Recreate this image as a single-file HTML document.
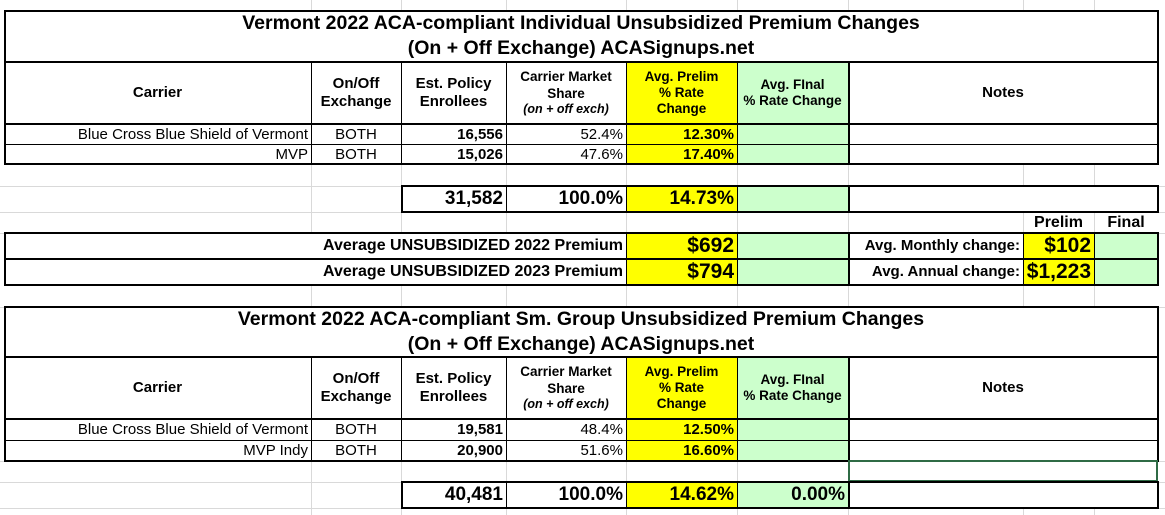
<!DOCTYPE html>
<html><head><meta charset="utf-8"><style>
body{margin:0;width:1165px;height:515px;background:#fff;position:relative;overflow:hidden;font-family:"Liberation Sans",Arial,sans-serif;}
.g{position:absolute;background:#d9d9d9}
.c{position:absolute;box-sizing:border-box;display:flex;align-items:center;justify-content:center;text-align:center;font-weight:bold;font-size:15px;color:#000;line-height:1.2;padding:0 3px;white-space:nowrap}
.r{justify-content:flex-end;text-align:right}
.n{font-weight:normal}
.y{background:#ffff00}
.gr{background:#ccffcc}
.w{background:#fff}
.b{position:absolute;background:#000}
.h{font-size:15px}
.s{font-size:13.5px}
.t{font-size:19.5px;line-height:25px}
.big{font-size:19px}
.v{font-size:21px}
.lab{font-size:16px}
</style></head><body>
<!-- gridlines -->
<div class="g" style="left:311px;top:0;width:1px;height:515px"></div>
<div class="g" style="left:401px;top:0;width:1px;height:515px"></div>
<div class="g" style="left:506px;top:0;width:1px;height:515px"></div>
<div class="g" style="left:626px;top:0;width:1px;height:515px"></div>
<div class="g" style="left:737px;top:0;width:1px;height:515px"></div>
<div class="g" style="left:848px;top:0;width:1px;height:515px"></div>
<div class="g" style="left:1023px;top:0;width:1px;height:515px"></div>
<div class="g" style="left:1094px;top:0;width:1px;height:515px"></div>
<div class="g" style="left:0;top:186px;width:1165px;height:1px"></div>
<div class="g" style="left:0;top:212px;width:1165px;height:1px"></div>
<div class="g" style="left:0;top:233px;width:1165px;height:1px"></div>
<div class="g" style="left:0;top:307px;width:1165px;height:1px"></div>
<div class="g" style="left:0;top:461px;width:1165px;height:1px"></div>
<div class="g" style="left:0;top:482px;width:1165px;height:1px"></div>
<div class="g" style="left:0;top:508px;width:1165px;height:1px"></div>

<!-- TOP TABLE -->
<div class="c w t" style="left:4px;top:10px;width:1154px;height:52px">Vermont 2022 ACA-compliant Individual Unsubsidized Premium Changes<br>(On + Off Exchange) ACASignups.net</div>
<div class="c w h" style="left:4px;top:62px;width:307px;height:62px">Carrier</div>
<div class="c w h" style="left:311px;top:62px;width:90px;height:62px">On/Off<br>Exchange</div>
<div class="c w h" style="left:401px;top:62px;width:105px;height:62px">Est. Policy<br>Enrollees</div>
<div class="c w s" style="left:506px;top:62px;width:120px;height:62px;flex-direction:column">Carrier Market<br>Share<br><i style="font-size:12.5px">(on + off exch)</i></div>
<div class="c y s" style="left:626px;top:62px;width:111px;height:62px">Avg. Prelim<br>% Rate<br>Change</div>
<div class="c gr s" style="left:737px;top:62px;width:111px;height:62px">Avg. FInal<br>% Rate Change</div>
<div class="c w h" style="left:848px;top:62px;width:310px;height:62px">Notes</div>

<div class="c r n" style="left:4px;top:124px;width:307px;height:21px">Blue Cross Blue Shield of Vermont</div>
<div class="c n" style="left:311px;top:124px;width:90px;height:21px">BOTH</div>
<div class="c r" style="left:401px;top:124px;width:105px;height:21px">16,556</div>
<div class="c r n" style="left:506px;top:124px;width:120px;height:21px">52.4%</div>
<div class="c r y" style="left:626px;top:124px;width:111px;height:21px">12.30%</div>
<div class="c gr" style="left:737px;top:124px;width:111px;height:21px"></div>
<div class="c w" style="left:848px;top:124px;width:310px;height:40px"></div>
<div class="c r n" style="left:4px;top:145px;width:307px;height:19px">MVP</div>
<div class="c n" style="left:311px;top:145px;width:90px;height:19px">BOTH</div>
<div class="c r" style="left:401px;top:145px;width:105px;height:19px">15,026</div>
<div class="c r n" style="left:506px;top:145px;width:120px;height:19px">47.6%</div>
<div class="c r y" style="left:626px;top:145px;width:111px;height:19px">17.40%</div>
<div class="c gr" style="left:737px;top:145px;width:111px;height:19px"></div>

<div class="c r w big" style="left:401px;top:186px;width:105px;height:26px">31,582</div>
<div class="c r w big" style="left:506px;top:186px;width:120px;height:26px">100.0%</div>
<div class="c r y big" style="left:626px;top:186px;width:111px;height:26px">14.73%</div>
<div class="c gr" style="left:737px;top:186px;width:111px;height:26px"></div>
<div class="c w" style="left:848px;top:186px;width:310px;height:26px"></div>

<div class="c lab" style="left:1023px;top:212px;width:71px;height:21px">Prelim</div>
<div class="c lab" style="left:1094px;top:212px;width:64px;height:21px">Final</div>

<div class="c r w lab" style="left:4px;top:233px;width:622px;height:26px">Average UNSUBSIDIZED 2022 Premium</div>
<div class="c r y v" style="left:626px;top:233px;width:111px;height:26px">$692</div>
<div class="c gr" style="left:737px;top:233px;width:111px;height:26px"></div>
<div class="c r w h" style="left:848px;top:233px;width:175px;height:26px">Avg. Monthly change:</div>
<div class="c r y v" style="left:1023px;top:233px;width:71px;height:26px">$102</div>
<div class="c gr" style="left:1094px;top:233px;width:64px;height:26px"></div>
<div class="c r w lab" style="left:4px;top:259px;width:622px;height:26px">Average UNSUBSIDIZED 2023 Premium</div>
<div class="c r y v" style="left:626px;top:259px;width:111px;height:26px">$794</div>
<div class="c gr" style="left:737px;top:259px;width:111px;height:26px"></div>
<div class="c r w h" style="left:848px;top:259px;width:175px;height:26px">Avg. Annual change:</div>
<div class="c r y v" style="left:1023px;top:259px;width:71px;height:26px">$1,223</div>
<div class="c gr" style="left:1094px;top:259px;width:64px;height:26px"></div>

<!-- top table lines -->
<div class="b" style="left:4px;top:10px;width:1155px;height:2px"></div>
<div class="b" style="left:4px;top:61px;width:1155px;height:2px"></div>
<div class="b" style="left:4px;top:123px;width:1155px;height:2px"></div>
<div class="b" style="left:4px;top:144px;width:1155px;height:1px"></div>
<div class="b" style="left:4px;top:163px;width:1155px;height:2px"></div>
<div class="b" style="left:4px;top:10px;width:2px;height:155px"></div>
<div class="b" style="left:1157px;top:10px;width:2px;height:155px"></div>
<div class="b" style="left:311px;top:62px;width:1px;height:102px"></div>
<div class="b" style="left:401px;top:62px;width:1px;height:102px"></div>
<div class="b" style="left:506px;top:62px;width:1px;height:102px"></div>
<div class="b" style="left:626px;top:62px;width:1px;height:102px"></div>
<div class="b" style="left:737px;top:62px;width:1px;height:102px"></div>
<div class="b" style="left:848px;top:62px;width:2px;height:102px"></div>

<div class="b" style="left:401px;top:185px;width:758px;height:2px"></div>
<div class="b" style="left:401px;top:211px;width:758px;height:2px"></div>
<div class="b" style="left:401px;top:185px;width:2px;height:28px"></div>
<div class="b" style="left:1157px;top:185px;width:2px;height:28px"></div>
<div class="b" style="left:506px;top:186px;width:1px;height:26px"></div>
<div class="b" style="left:626px;top:186px;width:1px;height:26px"></div>
<div class="b" style="left:737px;top:186px;width:1px;height:26px"></div>
<div class="b" style="left:848px;top:186px;width:2px;height:26px"></div>

<div class="b" style="left:4px;top:232px;width:1155px;height:2px"></div>
<div class="b" style="left:4px;top:258px;width:1155px;height:2px"></div>
<div class="b" style="left:4px;top:284px;width:1155px;height:2px"></div>
<div class="b" style="left:4px;top:232px;width:2px;height:54px"></div>
<div class="b" style="left:1157px;top:232px;width:2px;height:54px"></div>
<div class="b" style="left:626px;top:233px;width:1px;height:52px"></div>
<div class="b" style="left:737px;top:233px;width:1px;height:52px"></div>
<div class="b" style="left:848px;top:233px;width:2px;height:52px"></div>
<div class="b" style="left:1023px;top:233px;width:1px;height:52px"></div>
<div class="b" style="left:1094px;top:233px;width:1px;height:52px"></div>

<!-- BOTTOM TABLE -->
<div class="c w t" style="left:4px;top:307px;width:1154px;height:50px">Vermont 2022 ACA-compliant Sm. Group Unsubsidized Premium Changes<br>(On + Off Exchange) ACASignups.net</div>
<div class="c w h" style="left:4px;top:357px;width:307px;height:62px">Carrier</div>
<div class="c w h" style="left:311px;top:357px;width:90px;height:62px">On/Off<br>Exchange</div>
<div class="c w h" style="left:401px;top:357px;width:105px;height:62px">Est. Policy<br>Enrollees</div>
<div class="c w s" style="left:506px;top:357px;width:120px;height:62px;flex-direction:column">Carrier Market<br>Share<br><i style="font-size:12.5px">(on + off exch)</i></div>
<div class="c y s" style="left:626px;top:357px;width:111px;height:62px">Avg. Prelim<br>% Rate<br>Change</div>
<div class="c gr s" style="left:737px;top:357px;width:111px;height:62px">Avg. FInal<br>% Rate Change</div>
<div class="c w h" style="left:848px;top:357px;width:310px;height:62px">Notes</div>

<div class="c r n" style="left:4px;top:419px;width:307px;height:21px">Blue Cross Blue Shield of Vermont</div>
<div class="c n" style="left:311px;top:419px;width:90px;height:21px">BOTH</div>
<div class="c r" style="left:401px;top:419px;width:105px;height:21px">19,581</div>
<div class="c r n" style="left:506px;top:419px;width:120px;height:21px">48.4%</div>
<div class="c r y" style="left:626px;top:419px;width:111px;height:21px">12.50%</div>
<div class="c gr" style="left:737px;top:419px;width:111px;height:21px"></div>
<div class="c w" style="left:848px;top:419px;width:310px;height:42px"></div>
<div class="c r n" style="left:4px;top:440px;width:307px;height:21px">MVP Indy</div>
<div class="c n" style="left:311px;top:440px;width:90px;height:21px">BOTH</div>
<div class="c r" style="left:401px;top:440px;width:105px;height:21px">20,900</div>
<div class="c r n" style="left:506px;top:440px;width:120px;height:21px">51.6%</div>
<div class="c r y" style="left:626px;top:440px;width:111px;height:21px">16.60%</div>
<div class="c gr" style="left:737px;top:440px;width:111px;height:21px"></div>

<div class="c r w big" style="left:401px;top:482px;width:105px;height:26px">40,481</div>
<div class="c r w big" style="left:506px;top:482px;width:120px;height:26px">100.0%</div>
<div class="c r y big" style="left:626px;top:482px;width:111px;height:26px">14.62%</div>
<div class="c r gr big" style="left:737px;top:482px;width:111px;height:26px">0.00%</div>
<div class="c w" style="left:848px;top:482px;width:310px;height:26px"></div>

<div class="b" style="left:4px;top:306px;width:1155px;height:2px"></div>
<div class="b" style="left:4px;top:356px;width:1155px;height:2px"></div>
<div class="b" style="left:4px;top:418px;width:1155px;height:2px"></div>
<div class="b" style="left:4px;top:440px;width:1155px;height:1px"></div>
<div class="b" style="left:4px;top:460px;width:845px;height:2px"></div>
<div class="b" style="left:4px;top:306px;width:2px;height:156px"></div>
<div class="b" style="left:1157px;top:306px;width:2px;height:156px"></div>
<div class="b" style="left:311px;top:357px;width:1px;height:104px"></div>
<div class="b" style="left:401px;top:357px;width:1px;height:104px"></div>
<div class="b" style="left:506px;top:357px;width:1px;height:104px"></div>
<div class="b" style="left:626px;top:357px;width:1px;height:104px"></div>
<div class="b" style="left:737px;top:357px;width:1px;height:104px"></div>
<div class="b" style="left:848px;top:357px;width:2px;height:104px"></div>

<div style="position:absolute;left:848px;top:460px;width:310px;height:22px;box-sizing:border-box;border:2px solid #2f6b45;background:#fff"></div>

<div class="b" style="left:401px;top:481px;width:758px;height:2px"></div>
<div class="b" style="left:401px;top:507px;width:758px;height:2px"></div>
<div class="b" style="left:401px;top:481px;width:2px;height:28px"></div>
<div class="b" style="left:1157px;top:481px;width:2px;height:28px"></div>
<div class="b" style="left:506px;top:482px;width:1px;height:26px"></div>
<div class="b" style="left:626px;top:482px;width:1px;height:26px"></div>
<div class="b" style="left:737px;top:482px;width:1px;height:26px"></div>
<div class="b" style="left:848px;top:482px;width:2px;height:26px"></div>
</body></html>
